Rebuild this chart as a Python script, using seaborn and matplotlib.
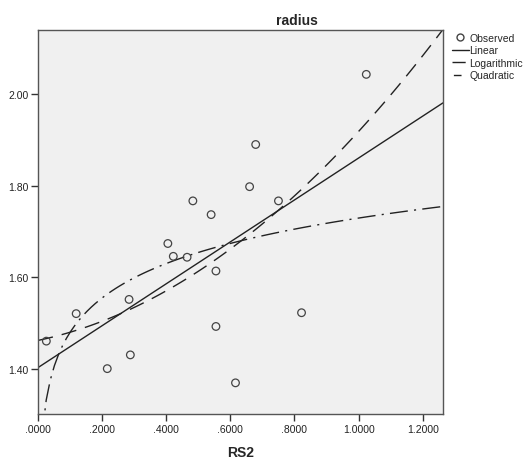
import numpy as np
import pandas as pd
import matplotlib
matplotlib.use("Agg")
import matplotlib.pyplot as plt
from matplotlib.lines import Line2D
from matplotlib.ticker import FuncFormatter
import seaborn as sns

rs2 = [0.026, 0.119, 0.216, 0.284, 0.288, 0.405, 0.422, 0.465, 0.483,
       0.540, 0.555, 0.555, 0.616, 0.660, 0.679, 0.750, 0.822, 1.024]
radius = [1.461, 1.521, 1.401, 1.552, 1.431, 1.674, 1.646, 1.644, 1.767,
          1.737, 1.614, 1.493, 1.370, 1.798, 1.890, 1.767, 1.523, 2.043]
x_ticks = [0.0, 0.2, 0.4, 0.6, 0.8, 1.0, 1.2]
y_ticks = [1.40, 1.60, 1.80, 2.00]
legend_labels = ["Observed", "Linear", "Logarithmic", "Quadratic"]

df = pd.DataFrame({"RS2": rs2, "radius": radius})

sns.set_style("white")
plt.rcParams["font.family"] = ["Liberation Sans", "DejaVu Sans"]

fig = plt.figure(figsize=(5.31, 4.60), dpi=100)
ax = fig.add_axes([0.0716, 0.0978, 0.7625, 0.835])
ax.set_facecolor("#f0f0f0")
xlim = (0.0, 1.263)
ylim = (1.302, 2.140)
ax.set_xlim(xlim)
ax.set_ylim(ylim)

line_col = "#222222"
dash_dot = (0, (13, 4.5, 1.5, 4.5))
dashed = (0, (11, 6.5))

# linear, logarithmic and quadratic fits
sns.regplot(data=df, x="RS2", y="radius", ax=ax, scatter=False, ci=None,
            truncate=False, color=line_col, line_kws={"lw": 1.0})
with np.errstate(divide="ignore", invalid="ignore"):
    sns.regplot(data=df, x="RS2", y="radius", ax=ax, scatter=False, ci=None,
                truncate=False, logx=True, n_boot=1, color=line_col,
                line_kws={"lw": 1.0, "linestyle": dash_dot})
sns.regplot(data=df, x="RS2", y="radius", ax=ax, scatter=False, ci=None,
            truncate=False, order=2, color=line_col,
            line_kws={"lw": 1.0, "linestyle": dashed})
sns.scatterplot(data=df, x="RS2", y="radius", ax=ax, marker="o", s=30,
                facecolor="none", edgecolor="#444444", linewidth=0.9, zorder=5)

ax.set_xlim(xlim)
ax.set_ylim(ylim)
ax.set_xticks(x_ticks)
ax.set_yticks(y_ticks)
ax.xaxis.set_major_formatter(FuncFormatter(
    lambda v, p: f"{v:.4f}"[1:] if v < 1 else f"{v:.4f}"))
ax.yaxis.set_major_formatter(FuncFormatter(lambda v, p: f"{v:.2f}"))
ax.tick_params(direction="out", length=5, width=1, color="#333333",
               labelsize=7.5, labelcolor="#222222", pad=2,
               bottom=True, left=True)
for s in ax.spines.values():
    s.set_color("#555555")
    s.set_linewidth(1.0)

ax.set_ylabel("")
ax.set_xlabel("RS2", fontsize=10, fontweight="bold", labelpad=8)
fig.text(0.56, 0.955, "radius", fontsize=10, fontweight="bold", ha="center",
         va="center")

# legend swatches: short pieces of each line pattern, as in the original
handles = [
    Line2D([], [], marker="o", linestyle="none", markersize=5,
           markerfacecolor="none", markeredgecolor="#444444"),
    Line2D([], [], color=line_col, lw=1.0),
    Line2D([], [], color=line_col, lw=1.0, linestyle=(0, (9.5, 20))),
    Line2D([], [], color=line_col, lw=1.0, linestyle=(-1, (5.5, 20))),
]
fig.legend(handles, legend_labels, loc="upper left",
           bbox_to_anchor=(0.851, 0.927), frameon=False, fontsize=7.5,
           handlelength=1.6, handletextpad=0.05, labelspacing=0.25,
           borderaxespad=0, borderpad=0)

fig.savefig("out.png", dpi=100)
